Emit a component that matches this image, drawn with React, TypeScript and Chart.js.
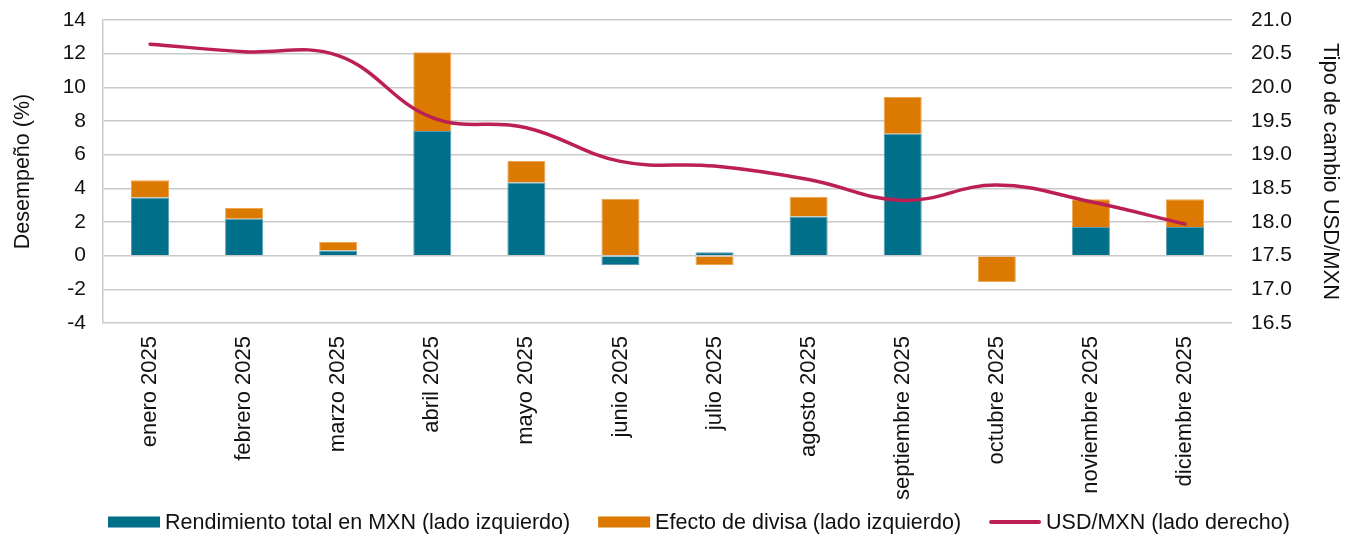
import React, { useEffect, useRef } from "react";
import { Chart, registerables } from "chart.js";

Chart.register(...registerables);

// Months shown on the category axis
const months = [
  "enero 2025",
  "febrero 2025",
  "marzo 2025",
  "abril 2025",
  "mayo 2025",
  "junio 2025",
  "julio 2025",
  "agosto 2025",
  "septiembre 2025",
  "octubre 2025",
  "noviembre 2025",
  "diciembre 2025",
];

// Total return in MXN (%), left axis
const totalReturnMxn = [3.45, 2.2, 0.3, 7.4, 4.35, -0.55, 0.2, 2.32, 7.25, 0.0, 1.7, 1.7];

// Currency effect (%), left axis, stacked on top of the MXN return
const currencyEffect = [1.03, 0.63, 0.52, 4.68, 1.28, 3.38, -0.55, 1.16, 2.18, -1.56, 1.65, 1.65];

// USD/MXN exchange rate, right axis
const usdMxn = [20.64, 20.53, 20.47, 19.55, 19.4, 18.9, 18.83, 18.63, 18.32, 18.55, 18.3, 17.97];

const seriesLabels = [
  "Rendimiento total en MXN (lado izquierdo)",
  "Efecto de divisa (lado izquierdo)",
  "USD/MXN (lado derecho)",
];

const leftAxisTitle = "Desempeño (%)";
const rightAxisTitle = "Tipo de cambio USD/MXN";

const TEAL = "#006F8A";
const ORANGE = "#DC7900";
const CRIMSON = "#BC1F54";
const GRID = "#C9C9C9";
const INK = "#111111";
const FONT = "'Liberation Sans', Arial, Helvetica, sans-serif";

// Legend drawn along the bottom of the canvas: swatch boxes for bars, a stroke for the line
const bottomLegend = {
  id: "bottomLegend",
  afterDraw(chart: any) {
    const ctx = chart.ctx;
    const datasets = chart.data.datasets;
    const y = 522;
    const boxW = 52;
    const boxH = 11;
    const textGap = 5;
    const itemGap = 28;
    let x = 108;
    ctx.save();
    ctx.font = `21.5px ${FONT}`;
    ctx.textBaseline = "middle";
    ctx.textAlign = "left";
    datasets.forEach((ds: any) => {
      if (ds.type === "line") {
        ctx.strokeStyle = ds.borderColor;
        ctx.lineWidth = 4;
        ctx.lineCap = "round";
        ctx.beginPath();
        ctx.moveTo(x + 2, y);
        ctx.lineTo(x + boxW - 2, y);
        ctx.stroke();
      } else {
        ctx.fillStyle = ds.backgroundColor;
        ctx.fillRect(x, y - boxH / 2, boxW, boxH);
      }
      ctx.fillStyle = INK;
      const tx = x + boxW + textGap;
      ctx.fillText(ds.label, tx, y + 1);
      x = tx + ctx.measureText(ds.label).width + itemGap;
    });
    ctx.restore();
  },
};

// Fixes the width of a vertical axis and drops the extra room it asks for above/below
const fixVertical = (width: number) => (scale: any) => {
  scale.width = width;
  scale.paddingTop = 0;
  scale.paddingBottom = 0;
};

export default function App() {
  const canvasRef = useRef<HTMLCanvasElement | null>(null);

  useEffect(() => {
    const canvas = canvasRef.current;
    if (!canvas) return;

    Chart.defaults.font.family = FONT;
    Chart.defaults.color = INK;

    const chart = new Chart(canvas, {
      type: "bar",
      data: {
        labels: months,
        datasets: [
          {
            type: "bar",
            label: seriesLabels[0],
            data: totalReturnMxn,
            yAxisID: "y",
            backgroundColor: TEAL,
            borderColor: "#5A9DB2",
            borderWidth: 1,
            barPercentage: 1,
            categoryPercentage: 0.405,
            stack: "perf",
            order: 1,
          },
          {
            type: "bar",
            label: seriesLabels[1],
            data: currencyEffect,
            yAxisID: "y",
            backgroundColor: ORANGE,
            borderColor: "#EFA650",
            borderWidth: 1,
            barPercentage: 1,
            categoryPercentage: 0.405,
            stack: "perf",
            order: 1,
          },
          {
            type: "line",
            label: seriesLabels[2],
            data: usdMxn,
            yAxisID: "y1",
            borderColor: CRIMSON,
            backgroundColor: CRIMSON,
            borderWidth: 3.5,
            pointRadius: 0,
            tension: 0.4,
            borderCapStyle: "round",
            order: 0,
          } as any,
        ],
      },
      options: {
        responsive: false,
        devicePixelRatio: 1,
        animation: false,
        layout: { padding: { top: 20, left: 0, right: 0, bottom: 0 } },
        plugins: {
          legend: { display: false },
          tooltip: { enabled: false },
          title: { display: false },
        },
        scales: {
          x: {
            stacked: true,
            grid: { display: false, drawTicks: false },
            border: { display: false },
            ticks: {
              autoSkip: false,
              minRotation: 90,
              maxRotation: 90,
              padding: 13,
              font: { size: 22 },
              color: INK,
            },
            afterFit(scale: any) {
              scale.height = 212;
              scale.paddingLeft = 0;
              scale.paddingRight = 0;
            },
          },
          y: {
            position: "left",
            stacked: true,
            min: -4,
            max: 14,
            ticks: {
              stepSize: 2,
              padding: 17,
              font: { size: 21 },
              color: INK,
            },
            grid: { color: GRID, lineWidth: 1.5, drawTicks: false },
            border: { display: true, color: GRID, width: 1.5 },
            title: {
              display: true,
              text: leftAxisTitle,
              font: { size: 21.5 },
              color: INK,
              padding: { top: 10, bottom: 0 },
            },
            afterFit: fixVertical(103),
          },
          y1: {
            position: "right",
            min: 16.5,
            max: 21,
            ticks: {
              stepSize: 0.5,
              padding: 19,
              font: { size: 21 },
              color: INK,
              callback: (v: any) => Number(v).toFixed(1),
            },
            grid: { display: false, drawTicks: false },
            border: { display: false },
            title: {
              display: true,
              text: rightAxisTitle,
              font: { size: 22 },
              color: INK,
              padding: { top: 14, bottom: 0 },
            },
            afterFit: fixVertical(125),
          },
        },
      } as any,
      plugins: [bottomLegend],
    });

    return () => chart.destroy();
  }, []);

  return (
    <div
      style={{
        position: "fixed",
        left: 0,
        top: 0,
        width: 1357,
        height: 535,
        background: "#ffffff",
      }}
    >
      <canvas ref={canvasRef} width={1357} height={535} style={{ display: "block" }} />
    </div>
  );
}
